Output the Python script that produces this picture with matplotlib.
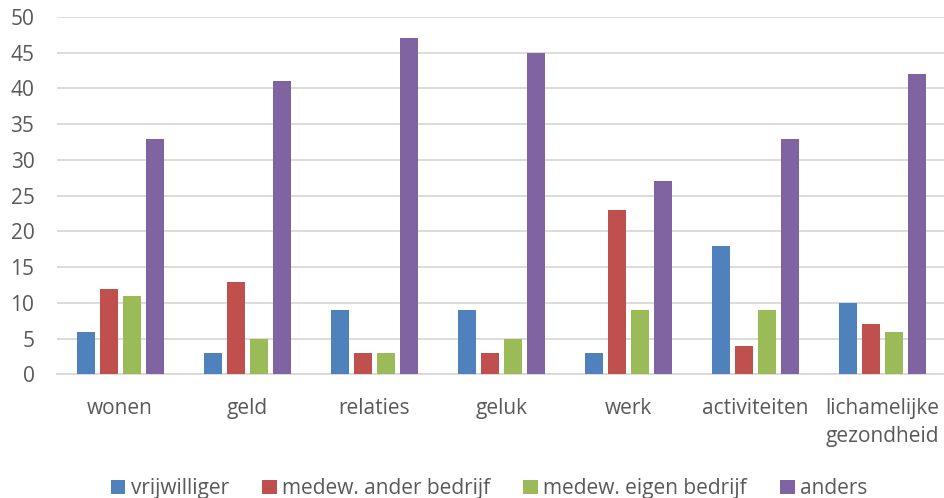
import numpy as np
from matplotlib import pyplot as plt

plt.rcParams['font.family'] = ['Open Sans', 'DejaVu Sans']

categories = ["wonen", "geld", "relaties", "geluk", "werk", "activiteiten", "lichamelijke\ngezondheid"]
series_names = ["vrijwilliger", "medew. ander bedrijf", "medew. eigen bedrijf", "anders"]
vrijwilliger = [6, 3, 9, 9, 3, 18, 10]
ander_bedrijf = [12, 13, 3, 3, 23, 4, 7]
eigen_bedrijf = [11, 5, 3, 5, 9, 9, 6]
anders = [33, 41, 47, 45, 27, 33, 42]
colors = ["#4F81BD", "#C0504D", "#9BBB59", "#8064A2"]
yticks = np.arange(0, 55, 5)

fig = plt.figure(figsize=(9.44, 4.98), dpi=100)
ax = fig.add_axes([0.060, 0.248, 0.942, 0.718])

x = np.arange(len(categories))
width = 0.142
step = 0.181
for i, (vals, name, col) in enumerate(zip([vrijwilliger, ander_bedrijf, eigen_bedrijf, anders], series_names, colors)):
    ax.bar(x + (i - 1.5) * step, vals, width, color=col, label=name, zorder=3)

ax.set_xlim(-0.5, len(categories) - 0.5)
ax.set_ylim(0, 50)
ax.set_yticks(yticks)
ax.set_xticks(x)
ax.set_xticklabels(categories, fontsize=15, color="#595959", linespacing=1.4)
ax.tick_params(axis='y', labelsize=15, labelcolor="#595959", length=0, pad=16)
ax.tick_params(axis='x', length=0, pad=17)
ax.grid(axis='y', color="#d9d9d9", linewidth=1.3, zorder=0)
for s in ["top", "right", "left"]:
    ax.spines[s].set_visible(False)
ax.spines["bottom"].set_color("#d9d9d9")
ax.spines["bottom"].set_linewidth(1.3)

leg = fig.legend(loc="lower center", bbox_to_anchor=(0.518, -0.04), ncol=4, frameon=False,
                 fontsize=15, handlelength=0.7, handleheight=0.7, handletextpad=0.25,
                 columnspacing=1.6, labelcolor="#595959")

fig.savefig("out.png", dpi=100)
